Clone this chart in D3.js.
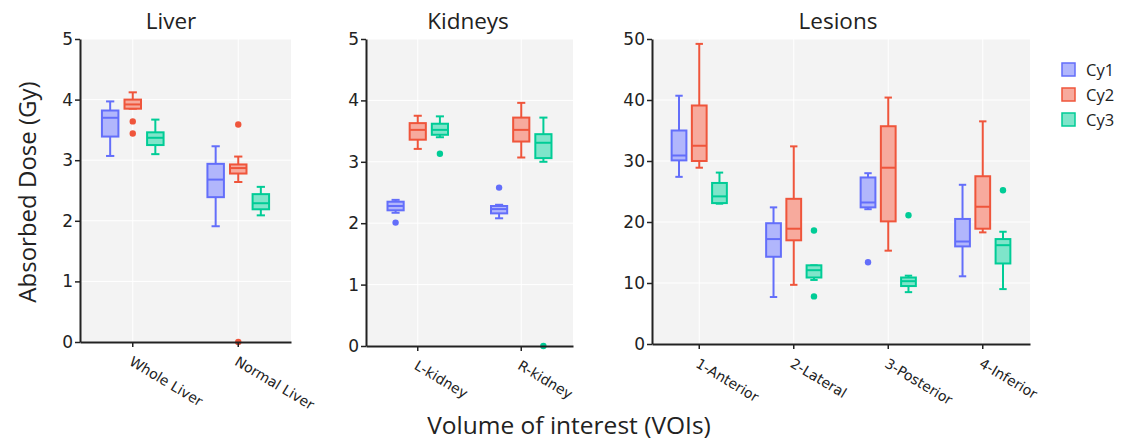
<!DOCTYPE html>
<html>
<head>
<meta charset="utf-8">
<script src="https://cdn.jsdelivr.net/npm/d3@7"></script>
<style>
  body { margin: 0; background: #fff; }
  svg text { fill: #222; }
</style>
</head>
<body>
<div id="divId"></div>
<script>
var width = 1124;
var height = 441;

var series = ["Cy1", "Cy2", "Cy3"];
var colors = ["#636efa", "#ef553b", "#00cc96"];

// box summaries: [lower whisker, q1, median, q3, upper whisker], one row per category
var liverCats = ["Whole Liver", "Normal Liver"];
var liverCy1 = [[3.07, 3.39, 3.70, 3.82, 3.97], [1.91, 2.39, 2.68, 2.94, 3.23]];
var liverCy2 = [[3.85, 3.85, 3.92, 4.00, 4.12], [2.64, 2.78, 2.87, 2.93, 3.06]];
var liverCy3 = [[3.10, 3.25, 3.37, 3.46, 3.67], [2.09, 2.19, 2.29, 2.44, 2.56]];
// outliers per series: [category index, value]
var liverOut = [[], [[0, 3.64], [0, 3.44], [1, 3.59], [1, 0]], []];

var kidneyCats = ["L-kidney", "R-kidney"];
var kidneyCy1 = [[2.17, 2.21, 2.28, 2.35, 2.38], [2.08, 2.16, 2.23, 2.28, 2.30]];
var kidneyCy2 = [[3.21, 3.36, 3.52, 3.63, 3.75], [3.07, 3.33, 3.52, 3.72, 3.96]];
var kidneyCy3 = [[3.40, 3.44, 3.52, 3.62, 3.74], [3.00, 3.06, 3.31, 3.45, 3.72]];
var kidneyOut = [[[0, 2.01], [1, 2.58]], [], [[0, 3.13], [1, 0]]];

var lesionCats = ["1-Anterior", "2-Lateral", "3-Posterior", "4-Inferior"];
var lesionCy1 = [[27.4, 30.1, 30.9, 35.0, 40.7], [7.7, 14.3, 17.2, 19.8, 22.4],
                 [22.1, 22.4, 23.2, 27.3, 28.0], [11.1, 16.0, 16.8, 20.5, 26.1]];
var lesionCy2 = [[28.9, 30.0, 32.5, 39.1, 49.2], [9.7, 17.0, 18.9, 23.8, 32.4],
                 [15.3, 20.1, 28.9, 35.7, 40.4], [18.3, 18.9, 22.5, 27.5, 36.5]];
var lesionCy3 = [[23.0, 23.1, 24.2, 26.4, 28.1], [10.5, 10.9, 12.1, 12.9, 12.9],
                 [8.5, 9.5, 10.3, 10.9, 11.2], [9.0, 13.2, 16.2, 17.2, 18.4]];
var lesionOut = [[[2, 13.4]], [], [[1, 18.6], [1, 7.8], [2, 21.1], [3, 25.2]]];

var svg = d3.select("#divId").append("svg")
    .attr("width", width)
    .attr("height", height);

function drawPanel(p) {
    var g = svg.append("g");

    var x = d3.scaleBand().domain(p.cats).range([p.left, p.right]);
    var y = d3.scaleLinear().domain([0, p.ymax]).range([p.bottom, p.top]);
    var step = x.step();
    var x1 = d3.scaleBand().domain(series).range([-0.35 * step, 0.35 * step]).padding(0.27);
    var bw = x1.bandwidth();
    function cx(ci, si) { return x(p.cats[ci]) + step / 2 + x1(series[si]) + bw / 2; }

    g.append("rect")
        .attr("x", p.left).attr("y", p.top)
        .attr("width", p.right - p.left).attr("height", p.bottom - p.top)
        .attr("fill", "#f3f3f3");

    // faint grid
    g.selectAll("line.gy").data(y.ticks(5)).enter().append("line")
        .attr("x1", p.left).attr("x2", p.right)
        .attr("y1", y).attr("y2", y)
        .attr("stroke", "#fff").attr("stroke-width", 1);
    g.selectAll("line.gx").data(p.cats).enter().append("line")
        .attr("x1", function (d) { return x(d) + step / 2; })
        .attr("x2", function (d) { return x(d) + step / 2; })
        .attr("y1", p.top).attr("y2", p.bottom)
        .attr("stroke", "#fff").attr("stroke-width", 1);

    p.boxes.forEach(function (rows, si) {
        var col = colors[si];
        var bg = g.selectAll("g.b" + si).data(rows).enter().append("g")
            .attr("transform", function (d, i) { return "translate(" + cx(i, si) + ",0)"; });
        // whiskers
        bg.append("line")
            .attr("x1", 0).attr("x2", 0)
            .attr("y1", function (d) { return y(d[0]); })
            .attr("y2", function (d) { return y(d[4]); })
            .attr("stroke", col).attr("stroke-width", 2);
        bg.selectAll("line.cap").data(function (d) { return [d[0], d[4]]; }).enter().append("line")
            .attr("x1", -bw / 4).attr("x2", bw / 4)
            .attr("y1", y).attr("y2", y)
            .attr("stroke", col).attr("stroke-width", 2);
        bg.append("rect")
            .attr("x", -bw / 2).attr("width", bw)
            .attr("y", function (d) { return y(d[3]); })
            .attr("height", function (d) { return y(d[1]) - y(d[3]); })
            .attr("fill", "#fff");
        bg.append("rect")
            .attr("x", -bw / 2).attr("width", bw)
            .attr("y", function (d) { return y(d[3]); })
            .attr("height", function (d) { return y(d[1]) - y(d[3]); })
            .attr("fill", col).attr("fill-opacity", 0.5)
            .attr("stroke", col).attr("stroke-width", 2);
        bg.append("line")
            .attr("x1", -bw / 2).attr("x2", bw / 2)
            .attr("y1", function (d) { return y(d[2]); })
            .attr("y2", function (d) { return y(d[2]); })
            .attr("stroke", col).attr("stroke-width", 2);

        g.selectAll("circle.o" + si).data(p.outliers[si]).enter().append("circle")
            .attr("cx", function (d) { return cx(d[0], si); })
            .attr("cy", function (d) { return y(d[1]); })
            .attr("r", 3.2)
            .attr("fill", col);
    });

    var ya = g.append("g")
        .attr("transform", "translate(" + p.left + ",0)")
        .call(d3.axisLeft(y).ticks(5).tickSize(5).tickPadding(2).tickSizeOuter(0));
    ya.select(".domain").attr("stroke", "#222").attr("stroke-width", 2);
    ya.selectAll(".tick line").attr("stroke", "#222").attr("stroke-width", 1.5);
    ya.selectAll("text").style("font-family", "'DejaVu Sans', sans-serif").style("font-size", "17px").attr("fill", "#222");

    var xa = g.append("g")
        .attr("transform", "translate(0," + p.bottom + ")")
        .call(d3.axisBottom(x).tickSize(5).tickSizeOuter(0));
    xa.select(".domain").attr("stroke", "#222").attr("stroke-width", 2);
    xa.selectAll(".tick line").attr("stroke", "#222").attr("stroke-width", 1.5);
    xa.selectAll("text")
        .style("font-family", "'DejaVu Sans', sans-serif")
        .style("font-size", "14px")
        .attr("fill", "#222")
        .attr("x", 0).attr("y", 0).attr("dy", "0.35em")
        .style("text-anchor", "start")
        .attr("transform", "translate(-2,18) rotate(31)");

    g.append("text")
        .attr("x", p.titleX).attr("y", 29)
        .attr("text-anchor", "middle")
        .style("font-family", "'Open Sans', sans-serif")
        .style("font-size", "22.5px")
        .text(p.title);
}

drawPanel({ title: "Liver", titleX: 171, cats: liverCats, boxes: [liverCy1, liverCy2, liverCy3],
            outliers: liverOut, ymax: 5, left: 80, right: 291, top: 39, bottom: 342 });
drawPanel({ title: "Kidneys", titleX: 468, cats: kidneyCats, boxes: [kidneyCy1, kidneyCy2, kidneyCy3],
            outliers: kidneyOut, ymax: 5, left: 366, right: 573, top: 39, bottom: 346 });
drawPanel({ title: "Lesions", titleX: 838, cats: lesionCats, boxes: [lesionCy1, lesionCy2, lesionCy3],
            outliers: lesionOut, ymax: 50, left: 652, right: 1030, top: 39, bottom: 344 });

// axis titles
svg.append("text")
    .attr("transform", "translate(36,192) rotate(-90)")
    .attr("text-anchor", "middle")
    .style("font-family", "'Open Sans', sans-serif")
    .style("font-size", "24px")
    .text("Absorbed Dose (Gy)");

svg.append("text")
    .attr("x", 569).attr("y", 434)
    .attr("text-anchor", "middle")
    .style("font-family", "'Open Sans', sans-serif")
    .style("font-size", "24.5px")
    .text("Volume of interest (VOIs)");

// legend
var legend = svg.selectAll("g.legend").data(series).enter().append("g")
    .attr("transform", function (d, i) { return "translate(1062," + (63 + i * 25) + ")"; });
legend.append("rect")
    .attr("width", 13).attr("height", 13)
    .attr("fill", function (d, i) { return colors[i]; }).attr("fill-opacity", 0.5)
    .attr("stroke", function (d, i) { return colors[i]; }).attr("stroke-width", 1.5);
legend.append("text")
    .attr("x", 24).attr("y", 7).attr("dy", "0.35em")
    .style("font-family", "'Open Sans', sans-serif")
    .style("font-size", "16.5px")
    .text(function (d) { return d; });
</script>
</body>
</html>
